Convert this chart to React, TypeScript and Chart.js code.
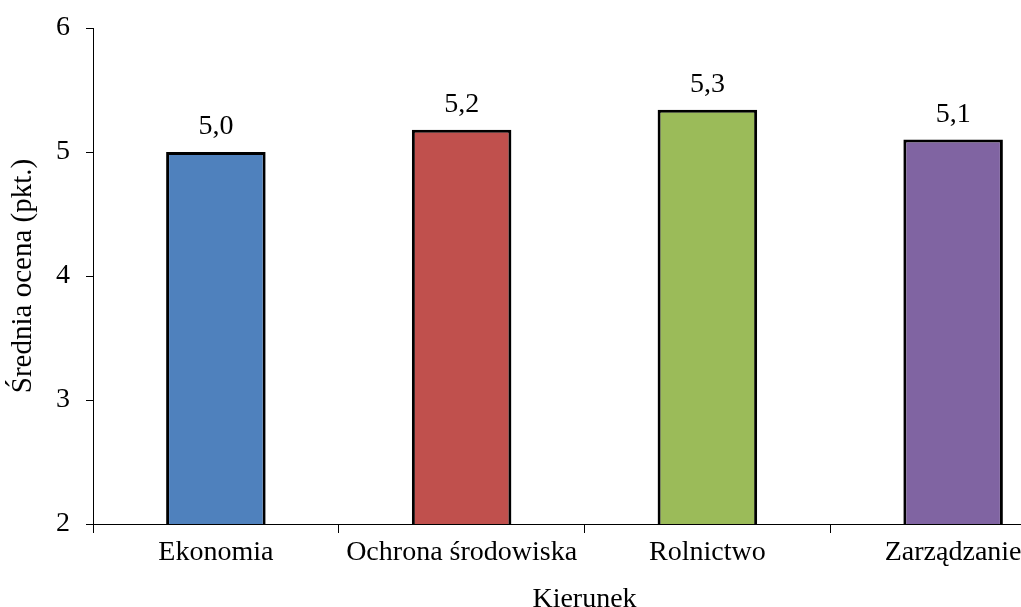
import React, { useEffect, useRef } from "react";
import { Chart, registerables } from "chart.js";

Chart.register(...registerables);

const categories = ["Ekonomia", "Ochrona środowiska", "Rolnictwo", "Zarządzanie"];
const values = [5.0, 5.18, 5.34, 5.1];
const barColors = ["#4F81BD", "#C0504D", "#9BBB59", "#8064A2"];
const yTitle = "Średnia ocena (pkt.)";
const xTitle = "Kierunek";

const FONT = "'Liberation Serif', 'Times New Roman', serif";

const dataLabels = {
  id: "dataLabels",
  afterDatasetsDraw(chart: any) {
    const ctx = chart.ctx;
    const meta = chart.getDatasetMeta(0);
    ctx.save();
    ctx.font = `28px ${FONT}`;
    ctx.fillStyle = "#000";
    ctx.textAlign = "center";
    ctx.textBaseline = "alphabetic";
    meta.data.forEach((bar: any, i: number) => {
      const v = chart.data.datasets[0].data[i] as number;
      ctx.fillText(v.toFixed(1).replace(".", ","), bar.x, bar.y - 18);
    });
    ctx.restore();
  },
};

export default function App() {
  const ref = useRef<HTMLCanvasElement | null>(null);
  useEffect(() => {
    if (!ref.current) return;
    const chart = new Chart(ref.current, {
      type: "bar",
      data: {
        labels: categories,
        datasets: [
          {
            data: values,
            backgroundColor: barColors,
            borderColor: "#000",
            borderWidth: 3,
            borderSkipped: false,
            barPercentage: 0.405,
            categoryPercentage: 1,
          },
        ],
      },
      options: {
        responsive: false,
        animation: false,
        layout: { padding: { top: 28, left: 0, right: 0, bottom: 0 } },
        plugins: { legend: { display: false }, tooltip: { enabled: false } },
        scales: {
          x: {
            offset: true,
            grid: {
              offset: true,
              drawOnChartArea: false,
              drawTicks: true,
              tickLength: 9,
              color: "#000",
            },
            border: { color: "#000", width: 1 },
            ticks: {
              color: "#000",
              font: { family: FONT, size: 28 },
              padding: 3,
              maxRotation: 0,
            },
            title: {
              display: true,
              text: xTitle,
              color: "#000",
              font: { family: FONT, size: 28 },
              padding: { top: 0, bottom: 24 },
            },
            afterFit(scale: any) {
              scale.height = 116;
              scale.paddingLeft = 0;
              scale.paddingRight = 0;
            },
          },
          y: {
            min: 2,
            max: 6,
            ticks: {
              stepSize: 1,
              color: "#000",
              font: { family: FONT, size: 28 },
              padding: 16,
            },
            grid: {
              drawOnChartArea: false,
              drawTicks: true,
              tickLength: 7,
              color: "#000",
            },
            border: { color: "#000", width: 1 },
            title: {
              display: true,
              text: yTitle,
              color: "#000",
              font: { family: FONT, size: 29 },
              padding: { top: 6, bottom: 0 },
            },
            afterFit(scale: any) {
              scale.width = 93;
              scale.paddingTop = 0;
              scale.paddingBottom = 0;
            },
          },
        },
      },
      plugins: [dataLabels],
    });
    return () => chart.destroy();
  }, []);
  return (
    <div
      style={{
        position: "fixed",
        left: 0,
        top: 0,
        width: 1021,
        height: 607,
        overflow: "hidden",
        background: "#fff",
      }}
    >
      <canvas
        ref={ref}
        width={1076}
        height={640}
        style={{ width: 1076, height: 640, display: "block" }}
      />
    </div>
  );
}
